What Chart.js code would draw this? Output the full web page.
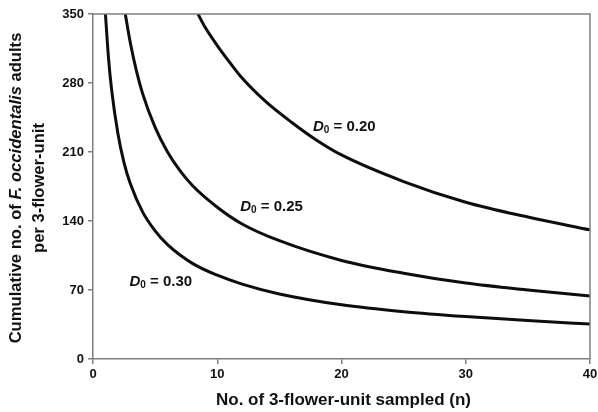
<!DOCTYPE html>
<html><head><meta charset="utf-8">
<script src="https://cdn.jsdelivr.net/npm/chart.js@4/dist/chart.umd.min.js"></script>
<style>html,body{margin:0;padding:0;background:#fff}#wrap{width:598px;height:412px;position:relative}</style>
</head><body><div id="wrap"><canvas id="c" width="598" height="412"></canvas></div>
<script>
// Series
const n020 = [8.45, 9, 10, 11, 12, 14, 16, 18, 20, 25, 30, 35, 40];
const t020 = [350, 337, 318, 301, 285, 260, 240, 222, 207, 180, 159, 144, 131];
const n025 = [2.6, 3, 3.5, 4, 5, 6, 7, 8, 10, 12, 15, 20, 25, 30, 35, 40];
const t025 = [350, 321, 292, 269, 235, 210, 191, 176, 154, 137, 120, 100, 87, 77, 70, 64];
const n030 = [1.0, 1.25, 1.5, 2, 2.5, 3, 4, 5, 6, 8, 10, 12, 15, 20, 25, 30, 35, 40];
const t030 = [350, 305, 273, 229, 199, 178, 149, 130, 116, 97, 85, 76, 66, 55, 48, 43, 39, 35.5];
const xTicks = [0, 10, 20, 30, 40];
const yTicks = [0, 70, 140, 210, 280, 350];
const curveNames = ['0.20', '0.25', '0.30'];
const labelN = [17.7, 11.85, 2.94];
const labelT = [236, 154.5, 78.7];
const xTitle = 'No. of 3-flower-unit sampled (n)';
const yTitle1 = ['Cumulative no. of ', 'F. occidentalis', ' adults'];
const yTitle2 = 'per 3-flower-unit';

const FF = '"Liberation Sans", Arial, sans-serif';
const AX = '#7f7f7f';
const toPts = (xs, ys) => xs.map((x, i) => ({x, y: ys[i]}));
const seriesN = [n020, n025, n030];
const seriesT = [t020, t025, t030];

const decor = {
  id: 'decor',
  afterDraw(chart) {
    const ctx = chart.ctx, a = chart.chartArea;
    const xs = chart.scales.x, ys = chart.scales.y;
    ctx.save();
    ctx.strokeStyle = AX; ctx.lineWidth = 1.5;
    ctx.beginPath();
    ctx.moveTo(a.left, a.top); ctx.lineTo(a.right, a.top); ctx.lineTo(a.right, a.bottom);
    ctx.stroke();
    ctx.fillStyle = '#111';
    // x title
    ctx.font = 'bold 17px ' + FF;
    ctx.textAlign = 'center'; ctx.textBaseline = 'middle';
    ctx.fillText(xTitle, 343.5, 400);
    // y title
    ctx.save();
    ctx.translate(0, 188);
    ctx.rotate(-Math.PI / 2);
    ctx.textAlign = 'left';
    const f1 = 'bold 16.6px ' + FF, f2 = 'italic bold 16.6px ' + FF;
    const fonts = [f1, f2, f1];
    let w = 0;
    yTitle1.forEach((s, i) => { ctx.font = fonts[i]; w += ctx.measureText(s).width; });
    let x = -w / 2;
    yTitle1.forEach((s, i) => { ctx.font = fonts[i]; ctx.fillText(s, x, 16.5); x += ctx.measureText(s).width; });
    ctx.font = f1; ctx.textAlign = 'center';
    ctx.fillText(yTitle2, 0, 39);
    ctx.restore();
    // curve labels
    ctx.textAlign = 'left'; ctx.textBaseline = 'middle';
    curveNames.forEach((nm, i) => {
      let px = xs.getPixelForValue(labelN[i]);
      const py = ys.getPixelForValue(labelT[i]);
      ctx.font = 'italic bold 15px ' + FF;
      ctx.fillText('D', px, py); px += ctx.measureText('D').width;
      ctx.font = 'bold 10px ' + FF;
      ctx.fillText('0', px, py + 4); px += ctx.measureText('0').width;
      ctx.font = 'bold 15px ' + FF;
      ctx.fillText(' = ' + nm, px, py);
    });
    ctx.restore();
  }
};

new Chart(document.getElementById('c'), {
  type: 'scatter',
  data: {
    datasets: seriesN.map((ns, i) => ({
      label: 'D0 = ' + curveNames[i],
      data: toPts(ns, seriesT[i]),
      showLine: true,
      borderColor: '#0d0d0d',
      borderWidth: 3,
      pointRadius: 0,
      cubicInterpolationMode: 'monotone',
      fill: false
    }))
  },
  options: {
    responsive: false,
    animation: false,
    events: [],
    layout: {padding: {top: 14, right: 8, left: 0, bottom: 0}},
    plugins: {legend: {display: false}, tooltip: {enabled: false}},
    scales: {
      x: {
        type: 'linear', min: 0, max: 40,
        afterBuildTicks: s => { s.ticks = xTicks.map(v => ({value: v})); },
        afterFit: s => { s.height = 53; s.paddingRight = 0; },
        ticks: {font: {family: FF, size: 13, weight: 'bold'}, color: '#111', padding: 3, maxRotation: 0},
        grid: {drawOnChartArea: false, drawTicks: true, tickLength: 5, color: AX, lineWidth: 1.5},
        border: {display: true, color: AX, width: 1.5}
      },
      y: {
        type: 'linear', min: 0, max: 350,
        afterBuildTicks: s => { s.ticks = yTicks.map(v => ({value: v})); },
        afterFit: s => { s.width = 93; },
        ticks: {font: {family: FF, size: 13, weight: 'bold'}, color: '#111', padding: 4},
        grid: {drawOnChartArea: false, drawTicks: true, tickLength: 5, color: AX, lineWidth: 1.5},
        border: {display: true, color: AX, width: 1.5}
      }
    }
  },
  plugins: [decor]
});
</script>
</body></html>
